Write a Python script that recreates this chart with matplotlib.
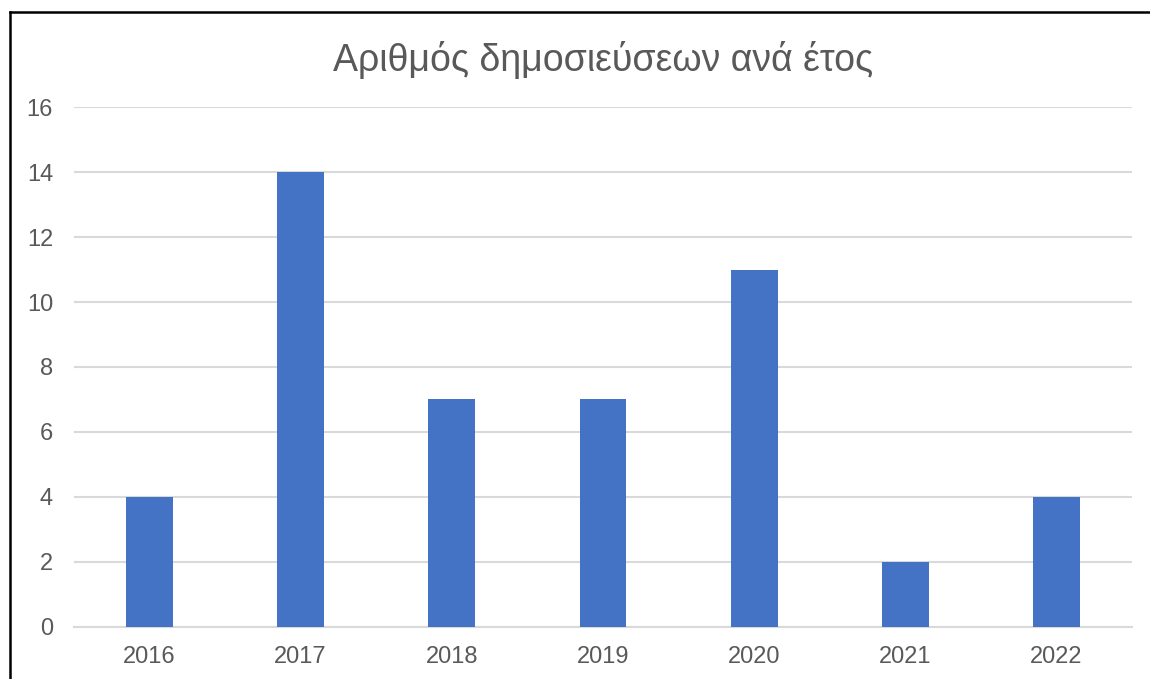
import matplotlib
matplotlib.use("Agg")
import matplotlib.pyplot as plt
from matplotlib.lines import Line2D

# Dane
years = ["2016", "2017", "2018", "2019", "2020", "2021", "2022"]
counts = [4, 14, 7, 7, 11, 2, 4]
yticks = [0, 2, 4, 6, 8, 10, 12, 14, 16]

plt.rcParams['font.family'] = ['Liberation Sans', 'DejaVu Sans']

fig = plt.figure(figsize=(11.5, 6.79), dpi=100)
ax = fig.add_axes([0.0643, 0.0766, 0.92, 0.7658])

x = range(len(years))
ax.bar(x, counts, width=0.31, color="#4472C4", zorder=3)

ax.set_xlim(-0.5, len(years) - 0.5)
ax.set_ylim(0, 16)
ax.set_xticks(list(x))
ax.set_xticklabels(years)
ax.set_yticks(yticks)
ax.grid(axis="y", color="#D9D9D9", linewidth=1.5, zorder=0)
for s in ["top", "right", "left"]:
    ax.spines[s].set_visible(False)
ax.spines["bottom"].set_color("#D9D9D9")
ax.spines["bottom"].set_linewidth(1.5)
ax.tick_params(axis="both", length=0, labelsize=17, labelcolor="#595959")
ax.tick_params(axis="x", pad=14)
ax.tick_params(axis="y", pad=15)

fig.text(0.5243, 0.9116, "Αριθμός δημοσιεύσεων ανά έτος", ha="center", va="center",
         fontsize=27, color="#595959")

# ramka (tylko lewa i górna krawędź, jak na zrzucie)
fig.add_artist(Line2D([0.0087, 0.0087], [0, 0.9830], transform=fig.transFigure, color="black", linewidth=1.8))
fig.add_artist(Line2D([0.0087, 1.0], [0.9830, 0.9830], transform=fig.transFigure, color="black", linewidth=1.8))

fig.savefig("out.png", dpi=100)
